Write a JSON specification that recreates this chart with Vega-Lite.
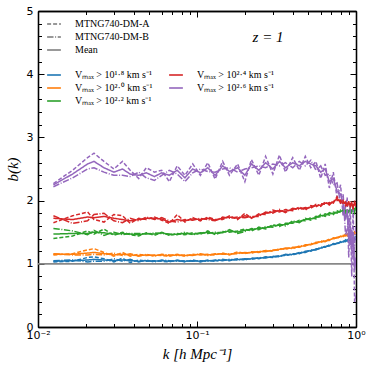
{
"$schema": "https://vega.github.io/schema/vega-lite/v6.json",
"width": 318, "height": 316,
"autosize": "none",
"padding": {"left": 38, "top": 11, "right": 17, "bottom": 45},
"config": {
 "view": {"stroke": null},
 "axis": {"grid": false, "domainColor": "black", "tickColor": "black", "labelColor": "black", "titleColor": "black", "domainWidth": 1.3, "tickWidth": 1, "labelFont": "DejaVu Sans", "labelFontSize": 11},
 "legend": {"labelFont": "Liberation Serif", "labelFontSize": 10, "labelColor": "black", "symbolType": "stroke", "symbolSize": 190, "symbolStrokeWidth": 1.6, "rowPadding": 0, "labelOffset": 13, "padding": 0, "title": null}
},
"datasets": {
 "c": [
{"k":0.0125,"s":"2.6","M":2.25,"A":2.27,"B":2.22},{"k":0.0165,"s":"2.6","M":2.42,"A":2.48,"B":2.36},{"k":0.0205,"s":"2.6","M":2.58,"A":2.68,"B":2.50},{"k":0.0225,"s":"2.6","M":2.62,"A":2.75,"B":2.52},{"k":0.026,"s":"2.6","M":2.52,"A":2.62,"B":2.45},{"k":0.03,"s":"2.6","M":2.45,"A":2.50,"B":2.40},{"k":0.034,"s":"2.6","M":2.50,"A":2.62,"B":2.40},{"k":0.038,"s":"2.6","M":2.42,"A":2.48,"B":2.38},{"k":0.043,"s":"2.6","M":2.40,"A":2.35,"B":2.45},{"k":0.048,"s":"2.6","M":2.44,"A":2.52,"B":2.36},{"k":0.054,"s":"2.6","M":2.38,"A":2.45,"B":2.32},{"k":0.06,"s":"2.6","M":2.44,"A":2.48,"B":2.40},{"k":0.067,"s":"2.6","M":2.40,"A":2.30,"B":2.48},{"k":0.075,"s":"2.6","M":2.48,"A":2.55,"B":2.42},{"k":0.084,"s":"2.6","M":2.36,"A":2.40,"B":2.30},{"k":0.094,"s":"2.6","M":2.50,"A":2.58,"B":2.44},{"k":0.105,"s":"2.6","M":2.44,"A":2.40,"B":2.50},{"k":0.117,"s":"2.6","M":2.52,"A":2.60,"B":2.46},{"k":0.13,"s":"2.6","M":2.40,"A":2.34,"B":2.45},{"k":0.145,"s":"2.6","M":2.55,"A":2.62,"B":2.50},{"k":0.16,"s":"2.6","M":2.46,"A":2.40,"B":2.52},{"k":0.18,"s":"2.6","M":2.52,"A":2.58,"B":2.45},{"k":0.2,"s":"2.6","M":2.40,"A":2.30,"B":2.50},{"k":0.22,"s":"2.6","M":2.58,"A":2.65,"B":2.52},{"k":0.245,"s":"2.6","M":2.48,"A":2.40,"B":2.55},{"k":0.27,"s":"2.6","M":2.60,"A":2.70,"B":2.52},{"k":0.3,"s":"2.6","M":2.50,"A":2.42,"B":2.58},{"k":0.33,"s":"2.6","M":2.62,"A":2.72,"B":2.55},{"k":0.36,"s":"2.6","M":2.52,"A":2.45,"B":2.60},{"k":0.4,"s":"2.6","M":2.60,"A":2.68,"B":2.52},{"k":0.44,"s":"2.6","M":2.55,"A":2.48,"B":2.62},{"k":0.48,"s":"2.6","M":2.62,"A":2.70,"B":2.55},{"k":0.52,"s":"2.6","M":2.58,"A":2.52,"B":2.64},{"k":0.56,"s":"2.6","M":2.55,"A":2.62,"B":2.48},{"k":0.6,"s":"2.6","M":2.45,"A":2.35,"B":2.55},{"k":0.64,"s":"2.6","M":2.50,"A":2.58,"B":2.40},{"k":0.68,"s":"2.6","M":2.30,"A":2.20,"B":2.42},{"k":0.72,"s":"2.6","M":2.35,"A":2.45,"B":2.25},{"k":0.76,"s":"2.6","M":2.15,"A":2.05,"B":2.28},{"k":0.8,"s":"2.6","M":2.10,"A":2.25,"B":1.95},{"k":0.83,"s":"2.6","M":1.95,"A":1.75,"B":2.10},{"k":0.86,"s":"2.6","M":1.70,"A":1.90,"B":1.45},{"k":0.88,"s":"2.6","M":1.85,"A":2.05,"B":1.55},{"k":0.9,"s":"2.6","M":1.40,"A":1.10,"B":1.75},{"k":0.92,"s":"2.6","M":1.60,"A":1.95,"B":1.30},{"k":0.94,"s":"2.6","M":1.20,"A":0.80,"B":1.55},{"k":0.96,"s":"2.6","M":1.50,"A":1.90,"B":1.10},{"k":0.98,"s":"2.6","M":0.90,"A":0.40,"B":1.30},{"k":1.0,"s":"2.6","M":1.10,"A":0.50,"B":1.60},
{"k":0.0125,"s":"2.4","M":1.72,"A":1.65,"B":1.76},{"k":0.0165,"s":"2.4","M":1.70,"A":1.76,"B":1.64},{"k":0.0205,"s":"2.4","M":1.74,"A":1.82,"B":1.68},{"k":0.0225,"s":"2.4","M":1.73,"A":1.70,"B":1.78},{"k":0.026,"s":"2.4","M":1.75,"A":1.66,"B":1.80},{"k":0.03,"s":"2.4","M":1.72,"A":1.78,"B":1.68},{"k":0.034,"s":"2.4","M":1.70,"A":1.76,"B":1.65},{"k":0.038,"s":"2.4","M":1.68,"A":1.64,"B":1.72},{"k":0.043,"s":"2.4","M":1.70,"A":1.72,"B":1.68},{"k":0.048,"s":"2.4","M":1.72,"A":1.70,"B":1.74},{"k":0.054,"s":"2.4","M":1.72,"A":1.74,"B":1.70},{"k":0.06,"s":"2.4","M":1.71,"A":1.69,"B":1.73},{"k":0.067,"s":"2.4","M":1.66,"A":1.64,"B":1.68},{"k":0.075,"s":"2.4","M":1.70,"A":1.78,"B":1.66},{"k":0.084,"s":"2.4","M":1.68,"A":1.66,"B":1.70},{"k":0.094,"s":"2.4","M":1.71,"A":1.73,"B":1.69},{"k":0.105,"s":"2.4","M":1.70,"A":1.68,"B":1.72},{"k":0.117,"s":"2.4","M":1.72,"A":1.74,"B":1.70},{"k":0.13,"s":"2.4","M":1.69,"A":1.70,"B":1.68},{"k":0.145,"s":"2.4","M":1.72,"A":1.70,"B":1.74},{"k":0.16,"s":"2.4","M":1.74,"A":1.76,"B":1.72},{"k":0.18,"s":"2.4","M":1.72,"A":1.70,"B":1.74},{"k":0.2,"s":"2.4","M":1.76,"A":1.80,"B":1.73},{"k":0.22,"s":"2.4","M":1.73,"A":1.72,"B":1.75},{"k":0.245,"s":"2.4","M":1.77,"A":1.79,"B":1.75},{"k":0.27,"s":"2.4","M":1.80,"A":1.78,"B":1.82},{"k":0.3,"s":"2.4","M":1.82,"A":1.85,"B":1.80},{"k":0.33,"s":"2.4","M":1.84,"A":1.82,"B":1.86},{"k":0.36,"s":"2.4","M":1.83,"A":1.86,"B":1.81},{"k":0.4,"s":"2.4","M":1.86,"A":1.84,"B":1.88},{"k":0.44,"s":"2.4","M":1.88,"A":1.90,"B":1.86},{"k":0.48,"s":"2.4","M":1.87,"A":1.85,"B":1.89},{"k":0.52,"s":"2.4","M":1.90,"A":1.92,"B":1.88},{"k":0.56,"s":"2.4","M":1.92,"A":1.90,"B":1.94},{"k":0.6,"s":"2.4","M":1.93,"A":1.95,"B":1.91},{"k":0.64,"s":"2.4","M":1.96,"A":1.94,"B":1.98},{"k":0.68,"s":"2.4","M":1.95,"A":1.97,"B":1.93},{"k":0.72,"s":"2.4","M":1.98,"A":1.96,"B":2.00},{"k":0.76,"s":"2.4","M":2.03,"A":2.06,"B":2.00},{"k":0.8,"s":"2.4","M":1.98,"A":1.96,"B":2.01},{"k":0.83,"s":"2.4","M":1.97,"A":2.00,"B":1.94},{"k":0.86,"s":"2.4","M":1.95,"A":1.92,"B":1.98},{"k":0.88,"s":"2.4","M":1.93,"A":1.96,"B":1.90},{"k":0.9,"s":"2.4","M":1.96,"A":1.93,"B":1.99},{"k":0.92,"s":"2.4","M":1.92,"A":1.95,"B":1.88},{"k":0.94,"s":"2.4","M":1.95,"A":1.90,"B":1.99},{"k":0.96,"s":"2.4","M":1.90,"A":1.94,"B":1.86},{"k":0.98,"s":"2.4","M":1.96,"A":1.92,"B":2.00},{"k":1.0,"s":"2.4","M":1.92,"A":1.95,"B":1.88},
{"k":0.0125,"s":"2.2","M":1.47,"A":1.40,"B":1.56},{"k":0.0165,"s":"2.2","M":1.48,"A":1.44,"B":1.52},{"k":0.0205,"s":"2.2","M":1.48,"A":1.52,"B":1.46},{"k":0.0225,"s":"2.2","M":1.50,"A":1.47,"B":1.53},{"k":0.026,"s":"2.2","M":1.49,"A":1.55,"B":1.45},{"k":0.03,"s":"2.2","M":1.47,"A":1.45,"B":1.50},{"k":0.034,"s":"2.2","M":1.48,"A":1.50,"B":1.46},{"k":0.038,"s":"2.2","M":1.47,"A":1.46,"B":1.48},{"k":0.043,"s":"2.2","M":1.46,"A":1.44,"B":1.48},{"k":0.048,"s":"2.2","M":1.48,"A":1.49,"B":1.47},{"k":0.054,"s":"2.2","M":1.47,"A":1.45,"B":1.49},{"k":0.06,"s":"2.2","M":1.49,"A":1.50,"B":1.48},{"k":0.067,"s":"2.2","M":1.46,"A":1.45,"B":1.47},{"k":0.075,"s":"2.2","M":1.47,"A":1.48,"B":1.46},{"k":0.084,"s":"2.2","M":1.48,"A":1.46,"B":1.50},{"k":0.094,"s":"2.2","M":1.47,"A":1.49,"B":1.46},{"k":0.105,"s":"2.2","M":1.48,"A":1.47,"B":1.49},{"k":0.117,"s":"2.2","M":1.50,"A":1.52,"B":1.48},{"k":0.13,"s":"2.2","M":1.48,"A":1.46,"B":1.50},{"k":0.145,"s":"2.2","M":1.50,"A":1.51,"B":1.49},{"k":0.16,"s":"2.2","M":1.52,"A":1.50,"B":1.54},{"k":0.18,"s":"2.2","M":1.50,"A":1.52,"B":1.48},{"k":0.2,"s":"2.2","M":1.53,"A":1.55,"B":1.51},{"k":0.22,"s":"2.2","M":1.54,"A":1.52,"B":1.56},{"k":0.245,"s":"2.2","M":1.56,"A":1.58,"B":1.54},{"k":0.27,"s":"2.2","M":1.57,"A":1.55,"B":1.59},{"k":0.3,"s":"2.2","M":1.60,"A":1.62,"B":1.58},{"k":0.33,"s":"2.2","M":1.61,"A":1.59,"B":1.63},{"k":0.36,"s":"2.2","M":1.62,"A":1.64,"B":1.60},{"k":0.4,"s":"2.2","M":1.66,"A":1.64,"B":1.68},{"k":0.44,"s":"2.2","M":1.67,"A":1.69,"B":1.65},{"k":0.48,"s":"2.2","M":1.70,"A":1.68,"B":1.72},{"k":0.52,"s":"2.2","M":1.71,"A":1.73,"B":1.69},{"k":0.56,"s":"2.2","M":1.73,"A":1.71,"B":1.75},{"k":0.6,"s":"2.2","M":1.76,"A":1.78,"B":1.74},{"k":0.64,"s":"2.2","M":1.77,"A":1.75,"B":1.79},{"k":0.68,"s":"2.2","M":1.79,"A":1.81,"B":1.77},{"k":0.72,"s":"2.2","M":1.80,"A":1.78,"B":1.82},{"k":0.76,"s":"2.2","M":1.82,"A":1.84,"B":1.80},{"k":0.8,"s":"2.2","M":1.83,"A":1.81,"B":1.85},{"k":0.83,"s":"2.2","M":1.84,"A":1.86,"B":1.82},{"k":0.86,"s":"2.2","M":1.82,"A":1.80,"B":1.85},{"k":0.88,"s":"2.2","M":1.85,"A":1.87,"B":1.82},{"k":0.9,"s":"2.2","M":1.83,"A":1.80,"B":1.86},{"k":0.92,"s":"2.2","M":1.86,"A":1.88,"B":1.83},{"k":0.94,"s":"2.2","M":1.82,"A":1.79,"B":1.85},{"k":0.96,"s":"2.2","M":1.86,"A":1.89,"B":1.83},{"k":0.98,"s":"2.2","M":1.84,"A":1.81,"B":1.87},{"k":1.0,"s":"2.2","M":1.87,"A":1.90,"B":1.84},
{"k":0.0125,"s":"2.0","M":1.15,"A":1.14,"B":1.16},{"k":0.0165,"s":"2.0","M":1.15,"A":1.16,"B":1.14},{"k":0.0205,"s":"2.0","M":1.17,"A":1.22,"B":1.14},{"k":0.0225,"s":"2.0","M":1.18,"A":1.24,"B":1.15},{"k":0.026,"s":"2.0","M":1.16,"A":1.18,"B":1.14},{"k":0.03,"s":"2.0","M":1.14,"A":1.12,"B":1.17},{"k":0.034,"s":"2.0","M":1.15,"A":1.18,"B":1.13},{"k":0.038,"s":"2.0","M":1.14,"A":1.12,"B":1.16},{"k":0.043,"s":"2.0","M":1.13,"A":1.15,"B":1.12},{"k":0.048,"s":"2.0","M":1.14,"A":1.13,"B":1.15},{"k":0.054,"s":"2.0","M":1.13,"A":1.14,"B":1.12},{"k":0.06,"s":"2.0","M":1.14,"A":1.13,"B":1.15},{"k":0.067,"s":"2.0","M":1.13,"A":1.12,"B":1.14},{"k":0.075,"s":"2.0","M":1.14,"A":1.15,"B":1.13},{"k":0.084,"s":"2.0","M":1.13,"A":1.12,"B":1.14},{"k":0.094,"s":"2.0","M":1.14,"A":1.15,"B":1.13},{"k":0.105,"s":"2.0","M":1.15,"A":1.14,"B":1.16},{"k":0.117,"s":"2.0","M":1.14,"A":1.15,"B":1.13},{"k":0.13,"s":"2.0","M":1.15,"A":1.14,"B":1.16},{"k":0.145,"s":"2.0","M":1.16,"A":1.17,"B":1.15},{"k":0.16,"s":"2.0","M":1.15,"A":1.14,"B":1.16},{"k":0.18,"s":"2.0","M":1.17,"A":1.19,"B":1.16},{"k":0.2,"s":"2.0","M":1.17,"A":1.16,"B":1.18},{"k":0.22,"s":"2.0","M":1.18,"A":1.19,"B":1.17},{"k":0.245,"s":"2.0","M":1.19,"A":1.18,"B":1.20},{"k":0.27,"s":"2.0","M":1.20,"A":1.21,"B":1.19},{"k":0.3,"s":"2.0","M":1.21,"A":1.20,"B":1.22},{"k":0.33,"s":"2.0","M":1.23,"A":1.24,"B":1.22},{"k":0.36,"s":"2.0","M":1.24,"A":1.23,"B":1.25},{"k":0.4,"s":"2.0","M":1.25,"A":1.26,"B":1.24},{"k":0.44,"s":"2.0","M":1.27,"A":1.26,"B":1.28},{"k":0.48,"s":"2.0","M":1.29,"A":1.30,"B":1.28},{"k":0.52,"s":"2.0","M":1.31,"A":1.30,"B":1.32},{"k":0.56,"s":"2.0","M":1.33,"A":1.34,"B":1.32},{"k":0.6,"s":"2.0","M":1.35,"A":1.34,"B":1.36},{"k":0.64,"s":"2.0","M":1.36,"A":1.37,"B":1.35},{"k":0.68,"s":"2.0","M":1.38,"A":1.37,"B":1.39},{"k":0.72,"s":"2.0","M":1.40,"A":1.41,"B":1.39},{"k":0.76,"s":"2.0","M":1.41,"A":1.40,"B":1.42},{"k":0.8,"s":"2.0","M":1.43,"A":1.44,"B":1.42},{"k":0.83,"s":"2.0","M":1.44,"A":1.43,"B":1.45},{"k":0.86,"s":"2.0","M":1.45,"A":1.47,"B":1.44},{"k":0.88,"s":"2.0","M":1.46,"A":1.44,"B":1.47},{"k":0.9,"s":"2.0","M":1.47,"A":1.49,"B":1.45},{"k":0.92,"s":"2.0","M":1.46,"A":1.44,"B":1.48},{"k":0.94,"s":"2.0","M":1.48,"A":1.50,"B":1.46},{"k":0.96,"s":"2.0","M":1.47,"A":1.45,"B":1.49},{"k":0.98,"s":"2.0","M":1.49,"A":1.51,"B":1.47},{"k":1.0,"s":"2.0","M":1.50,"A":1.52,"B":1.48},
{"k":0.0125,"s":"1.8","M":1.04,"A":1.03,"B":1.05},{"k":0.0165,"s":"1.8","M":1.05,"A":1.04,"B":1.06},{"k":0.0205,"s":"1.8","M":1.06,"A":1.10,"B":1.03},{"k":0.0225,"s":"1.8","M":1.07,"A":1.11,"B":1.04},{"k":0.026,"s":"1.8","M":1.06,"A":1.08,"B":1.04},{"k":0.03,"s":"1.8","M":1.05,"A":1.03,"B":1.08},{"k":0.034,"s":"1.8","M":1.06,"A":1.09,"B":1.04},{"k":0.038,"s":"1.8","M":1.05,"A":1.02,"B":1.07},{"k":0.043,"s":"1.8","M":1.04,"A":1.06,"B":1.03},{"k":0.048,"s":"1.8","M":1.05,"A":1.04,"B":1.06},{"k":0.054,"s":"1.8","M":1.04,"A":1.05,"B":1.03},{"k":0.06,"s":"1.8","M":1.05,"A":1.04,"B":1.06},{"k":0.067,"s":"1.8","M":1.04,"A":1.03,"B":1.05},{"k":0.075,"s":"1.8","M":1.05,"A":1.06,"B":1.04},{"k":0.084,"s":"1.8","M":1.04,"A":1.03,"B":1.05},{"k":0.094,"s":"1.8","M":1.05,"A":1.06,"B":1.04},{"k":0.105,"s":"1.8","M":1.04,"A":1.03,"B":1.05},{"k":0.117,"s":"1.8","M":1.05,"A":1.06,"B":1.04},{"k":0.13,"s":"1.8","M":1.05,"A":1.04,"B":1.06},{"k":0.145,"s":"1.8","M":1.06,"A":1.07,"B":1.05},{"k":0.16,"s":"1.8","M":1.06,"A":1.05,"B":1.07},{"k":0.18,"s":"1.8","M":1.07,"A":1.08,"B":1.06},{"k":0.2,"s":"1.8","M":1.07,"A":1.06,"B":1.08},{"k":0.22,"s":"1.8","M":1.08,"A":1.09,"B":1.07},{"k":0.245,"s":"1.8","M":1.09,"A":1.08,"B":1.10},{"k":0.27,"s":"1.8","M":1.10,"A":1.11,"B":1.09},{"k":0.3,"s":"1.8","M":1.11,"A":1.10,"B":1.12},{"k":0.33,"s":"1.8","M":1.12,"A":1.13,"B":1.11},{"k":0.36,"s":"1.8","M":1.14,"A":1.13,"B":1.15},{"k":0.4,"s":"1.8","M":1.15,"A":1.16,"B":1.14},{"k":0.44,"s":"1.8","M":1.17,"A":1.16,"B":1.18},{"k":0.48,"s":"1.8","M":1.19,"A":1.20,"B":1.18},{"k":0.52,"s":"1.8","M":1.21,"A":1.20,"B":1.22},{"k":0.56,"s":"1.8","M":1.23,"A":1.24,"B":1.22},{"k":0.6,"s":"1.8","M":1.25,"A":1.24,"B":1.26},{"k":0.64,"s":"1.8","M":1.27,"A":1.28,"B":1.26},{"k":0.68,"s":"1.8","M":1.29,"A":1.28,"B":1.30},{"k":0.72,"s":"1.8","M":1.31,"A":1.32,"B":1.30},{"k":0.76,"s":"1.8","M":1.32,"A":1.31,"B":1.33},{"k":0.8,"s":"1.8","M":1.34,"A":1.35,"B":1.33},{"k":0.83,"s":"1.8","M":1.35,"A":1.34,"B":1.36},{"k":0.86,"s":"1.8","M":1.36,"A":1.38,"B":1.35},{"k":0.88,"s":"1.8","M":1.37,"A":1.35,"B":1.38},{"k":0.9,"s":"1.8","M":1.38,"A":1.40,"B":1.36},{"k":0.92,"s":"1.8","M":1.37,"A":1.35,"B":1.39},{"k":0.94,"s":"1.8","M":1.39,"A":1.41,"B":1.37},{"k":0.96,"s":"1.8","M":1.38,"A":1.36,"B":1.40},{"k":0.98,"s":"1.8","M":1.40,"A":1.42,"B":1.38},{"k":1.0,"s":"1.8","M":1.41,"A":1.43,"B":1.39}
 ]
},
"resolve": {"scale": {"color": "independent"}, "axis": {"x": "independent", "y": "independent"}},
"layer": [
 {
  "data": {"values": [{"k0": 0.01, "k1": 1, "b": 1}]},
  "mark": {"type": "rule", "color": "#888888", "strokeWidth": 1.8},
  "encoding": {
   "x": {"field": "k0", "type": "quantitative", "scale": {"type": "log", "domain": [0.01, 1]}, "axis": {"orient": "top", "values": [0.01, 0.1, 1], "tickSize": -6, "labels": false, "title": null}},
   "x2": {"field": "k1"},
   "y": {"field": "b", "type": "quantitative", "scale": {"domain": [0, 5]}, "axis": {"orient": "right", "values": [0, 1, 2, 3, 4, 5], "tickSize": -6, "labels": false, "title": null}}
  }
 },
 {
  "data": {"name": "c"},
  "transform": [{"fold": ["A", "B", "M"], "as": ["v", "b"]}, {"filter": {"field": "s", "oneOf": ["1.8", "2.0", "2.2"]}}],
  "mark": {"type": "line", "strokeWidth": 1.5, "clip": true},
  "encoding": {
   "x": {"field": "k", "type": "quantitative", "scale": {"type": "log", "domain": [0.01, 1]}, "axis": {"orient": "bottom", "values": [0.01, 0.1, 1], "tickSize": -6, "labelPadding": 8, "labelFlush": false, "labelOverlap": false, "labelExpr": "datum.value < 0.05 ? '10⁻²' : datum.value < 0.5 ? '10⁻¹' : '10⁰'", "title": "k [h Mpc⁻¹]", "titleFont": "Liberation Serif", "titleFontStyle": "italic", "titleFontWeight": "normal", "titleFontSize": 15, "titlePadding": 6}},
   "y": {"field": "b", "type": "quantitative", "scale": {"domain": [0, 5]}, "axis": {"orient": "left", "values": [0, 1, 2, 3, 4, 5], "tickSize": -6, "labelPadding": 11, "title": "b(k)", "titleFont": "Liberation Serif", "titleFontStyle": "italic", "titleFontWeight": "normal", "titleFontSize": 15, "titlePadding": 6}},
   "color": {"field": "s", "type": "nominal", "scale": {"domain": ["1.8", "2.0", "2.2"], "range": ["#1f77b4", "#ff7f0e", "#2ca02c"]}, "legend": {"orient": "none", "legendX": 8, "legendY": 56, "labelExpr": "'Vₘₐₓ > 10' + (datum.label == '1.8' ? '¹·⁸' : datum.label == '2.0' ? '²·⁰' : '²·²') + ' km s⁻¹'"}},
   "strokeDash": {"field": "v", "type": "nominal", "scale": {"domain": ["A", "B", "M"], "range": [[4, 2], [6.4, 1.6, 1, 1.6], [1, 0]]}, "legend": {"orient": "none", "legendX": 8, "legendY": 5, "symbolStrokeColor": "#777777", "labelExpr": "datum.label == 'A' ? 'MTNG740-DM-A' : datum.label == 'B' ? 'MTNG740-DM-B' : 'Mean'"}}
  }
 },
 {
  "data": {"name": "c"},
  "transform": [{"fold": ["A", "B", "M"], "as": ["v", "b"]}, {"filter": {"field": "s", "oneOf": ["2.4", "2.6"]}}],
  "mark": {"type": "line", "strokeWidth": 1.5, "clip": true},
  "encoding": {
   "x": {"field": "k", "type": "quantitative", "scale": {"type": "log", "domain": [0.01, 1]}, "axis": {"orient": "bottom", "values": [0.02, 0.03, 0.04, 0.05, 0.06, 0.07, 0.08, 0.09, 0.2, 0.3, 0.4, 0.5, 0.6, 0.7, 0.8, 0.9], "tickSize": -3.5, "labels": false, "title": null}},
   "y": {"field": "b", "type": "quantitative", "scale": {"domain": [0, 5]}, "axis": {"orient": "left", "values": [0.2, 0.4, 0.6, 0.8, 1.2, 1.4, 1.6, 1.8, 2.2, 2.4, 2.6, 2.8, 3.2, 3.4, 3.6, 3.8, 4.2, 4.4, 4.6, 4.8], "tickSize": -3.5, "labels": false, "title": null}},
   "color": {"field": "s", "type": "nominal", "scale": {"domain": ["2.4", "2.6"], "range": ["#d62728", "#9467bd"]}, "legend": {"orient": "none", "legendX": 130, "legendY": 56, "labelExpr": "'Vₘₐₓ > 10' + (datum.label == '2.4' ? '²·⁴' : '²·⁶') + ' km s⁻¹'"}},
   "strokeDash": {"field": "v", "type": "nominal", "scale": {"domain": ["A", "B", "M"], "range": [[4, 2], [6.4, 1.6, 1, 1.6], [1, 0]]}, "legend": {"orient": "none", "legendX": 8, "legendY": 5, "symbolStrokeColor": "#777777", "labelExpr": "datum.label == 'A' ? 'MTNG740-DM-A' : datum.label == 'B' ? 'MTNG740-DM-B' : 'Mean'"}}
  }
 },
 {
  "data": {"values": [{"k": 0.28, "b": 4.59, "t": "z = 1"}]},
  "mark": {"type": "text", "font": "Liberation Serif", "fontStyle": "italic", "fontSize": 15, "color": "black"},
  "encoding": {
   "x": {"field": "k", "type": "quantitative", "scale": {"type": "log", "domain": [0.01, 1]}, "axis": {"orient": "top", "values": [0.02, 0.03, 0.04, 0.05, 0.06, 0.07, 0.08, 0.09, 0.2, 0.3, 0.4, 0.5, 0.6, 0.7, 0.8, 0.9], "tickSize": -3.5, "labels": false, "title": null}},
   "y": {"field": "b", "type": "quantitative", "scale": {"domain": [0, 5]}, "axis": {"orient": "right", "values": [0.2, 0.4, 0.6, 0.8, 1.2, 1.4, 1.6, 1.8, 2.2, 2.4, 2.6, 2.8, 3.2, 3.4, 3.6, 3.8, 4.2, 4.4, 4.6, 4.8], "tickSize": -3.5, "labels": false, "title": null}},
   "text": {"field": "t"}
  }
 }
]
}
